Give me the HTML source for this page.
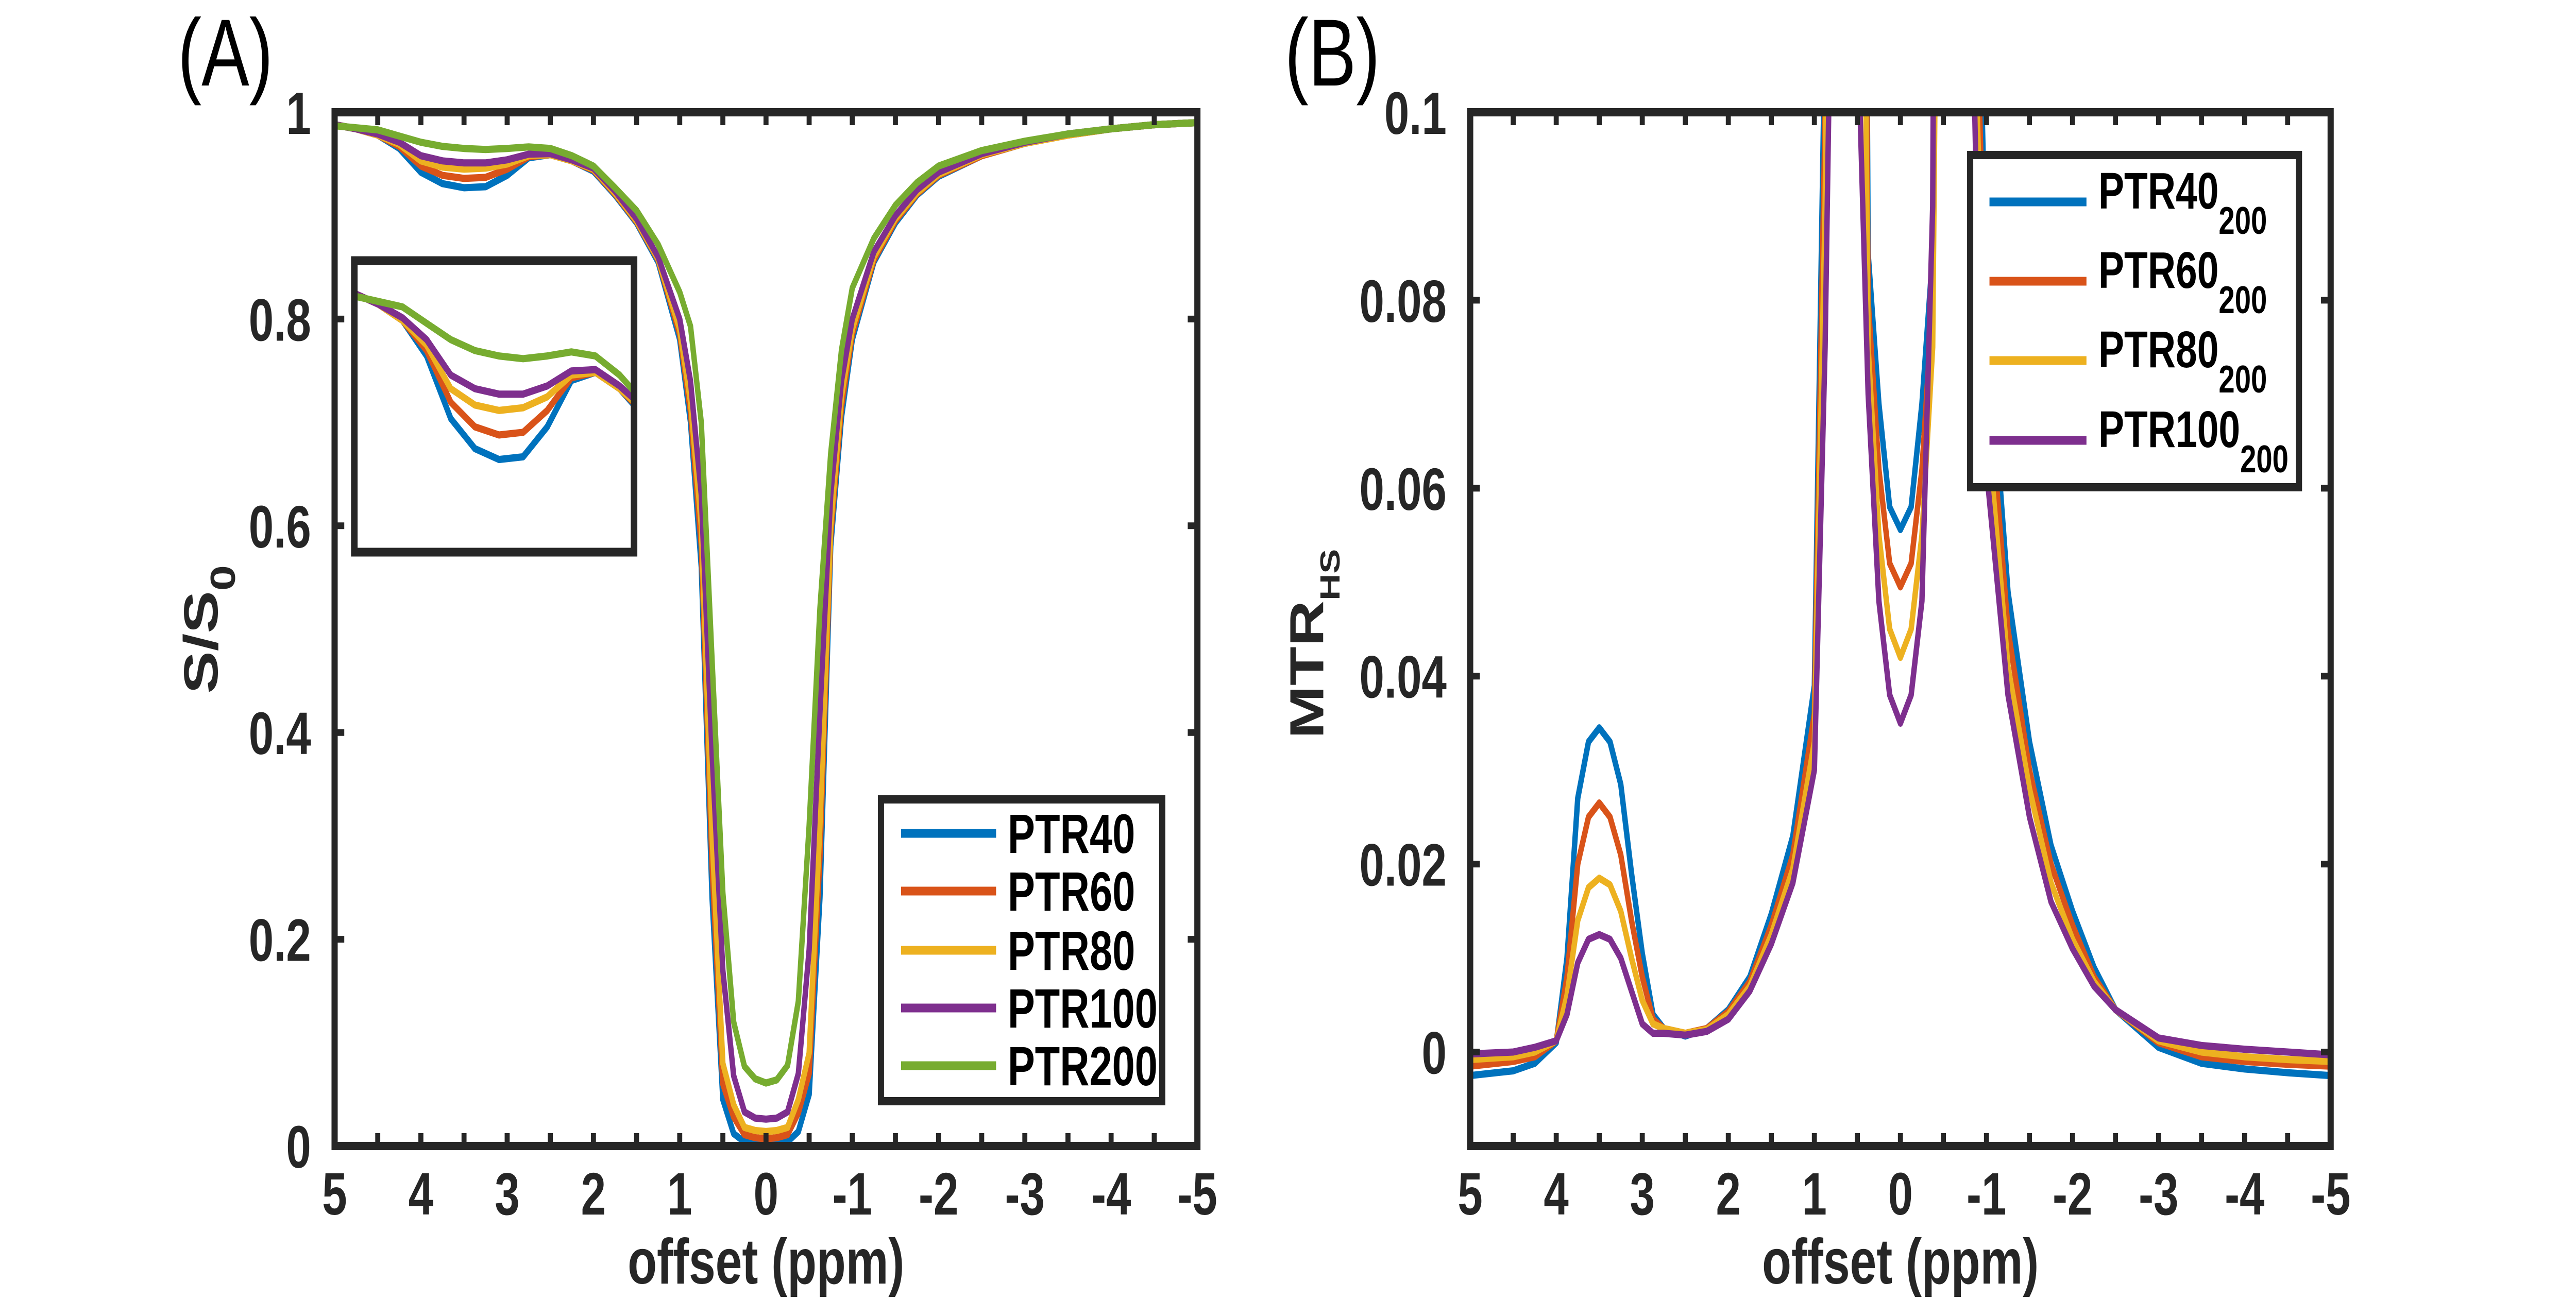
<!DOCTYPE html>
<html><head><meta charset="utf-8">
<style>
html,body{margin:0;padding:0;background:#fff;overflow:hidden;width:100%;height:100%;}
svg{display:block;width:100vw;height:100vh;}
text{font-family:"Liberation Sans",Arial,sans-serif;}
</style></head>
<body>
<svg id="fig" viewBox="0 0 6667 2555" preserveAspectRatio="none" xmlns="http://www.w3.org/2000/svg">
<rect x="0" y="0" width="6667" height="2555" fill="#fff"/>
<defs>
<clipPath id="clipA"><rect x="866" y="218" width="2233" height="2007"/></clipPath>
<clipPath id="clipB"><rect x="3805" y="218" width="2227" height="2007"/></clipPath>
<clipPath id="clipI"><rect x="917" y="506" width="724" height="566"/></clipPath>
</defs>
<g id="panelA"></g>
<g id="panelB"></g>
</svg>
<script>
// ---------- Panel A data ----------
const offsetsA = [5,4.75,4.5,4.25,4,3.75,3.5,3.25,3,2.75,2.5,2.25,2,1.75,1.5,1.25,1,0.875,0.75,0.625,0.5,0.375,0.25,0.125,0,-0.125,-0.25,-0.375,-0.5,-0.625,-0.75,-0.875,-1,-1.25,-1.5,-1.75,-2,-2.5,-3,-3.5,-4,-4.5,-5];
const ptr40 =  [0.988,0.984,0.978,0.965,0.942,0.931,0.927,0.928,0.939,0.956,0.959,0.953,0.943,0.920,0.893,0.855,0.780,0.700,0.560,0.240,0.045,0.012,0.004,0.002,0.0015,0.002,0.004,0.014,0.050,0.240,0.580,0.705,0.780,0.855,0.893,0.920,0.938,0.958,0.970,0.978,0.984,0.988,0.990];
const ptr60 =  [0.988,0.984,0.978,0.967,0.948,0.939,0.936,0.937,0.945,0.957,0.959,0.953,0.944,0.921,0.894,0.857,0.785,0.710,0.580,0.270,0.060,0.028,0.011,0.008,0.007,0.008,0.011,0.032,0.070,0.280,0.590,0.715,0.785,0.857,0.895,0.921,0.939,0.958,0.970,0.978,0.984,0.988,0.990];
const ptr80 =  [0.988,0.984,0.978,0.969,0.953,0.947,0.945,0.946,0.950,0.958,0.959,0.953,0.945,0.922,0.895,0.858,0.790,0.720,0.600,0.300,0.080,0.040,0.018,0.015,0.014,0.015,0.018,0.045,0.090,0.310,0.600,0.725,0.790,0.860,0.897,0.922,0.940,0.959,0.970,0.978,0.984,0.988,0.990];
const ptr100 = [0.988,0.984,0.979,0.971,0.958,0.953,0.951,0.951,0.954,0.9595,0.960,0.954,0.946,0.924,0.897,0.860,0.800,0.740,0.630,0.380,0.170,0.068,0.033,0.027,0.026,0.027,0.033,0.070,0.190,0.420,0.630,0.740,0.800,0.865,0.900,0.925,0.942,0.960,0.971,0.979,0.984,0.988,0.990];
const ptr200 = [0.987,0.985,0.983,0.977,0.971,0.967,0.965,0.964,0.965,0.9665,0.965,0.958,0.948,0.927,0.905,0.872,0.826,0.793,0.700,0.470,0.245,0.120,0.077,0.065,0.061,0.064,0.078,0.140,0.310,0.520,0.670,0.770,0.830,0.878,0.910,0.932,0.948,0.963,0.972,0.979,0.984,0.988,0.990];
const namesA = ["PTR40","PTR60","PTR80","PTR100","PTR200"];
const xTickLabels = ["5","4","3","2","1","0","-1","-2","-3","-4","-5"];
const yTicksA = [0,0.2,0.4,0.6,0.8,1];
const yTickLabelsA = ["0","0.2","0.4","0.6","0.8","1"];

// ---------- Panel B data ----------
const offsetsB = [5,4.5,4.25,4,3.875,3.75,3.625,3.5,3.375,3.25,3.125,3,2.875,2.75,2.5,2.25,2,1.75,1.5,1.25,1,0.875,0.75,0.5,0.375,0.25,0.125,0,-0.125,-0.25,-0.375,-0.5,-0.75,-0.875,-1,-1.25,-1.5,-1.75,-2,-2.25,-2.5,-3,-3.5,-4,-4.5,-5];
const mtr40 =  [-0.0025,-0.002,-0.0012,0.001,0.010,0.027,0.033,0.0345,0.033,0.0285,0.019,0.0105,0.004,0.0025,0.0017,0.0025,0.0045,0.008,0.0147,0.023,0.039,0.110,0.300,0.300,0.085,0.069,0.058,0.0556,0.058,0.069,0.085,0.300,0.300,0.130,0.080,0.049,0.033,0.022,0.015,0.009,0.0045,0.0005,-0.0012,-0.0018,-0.0022,-0.0025];
const mtr60 =  [-0.0015,-0.001,-0.0005,0.0012,0.008,0.020,0.025,0.0265,0.025,0.021,0.014,0.008,0.0035,0.0025,0.002,0.0025,0.0043,0.0075,0.0135,0.021,0.036,0.100,0.250,0.250,0.080,0.062,0.052,0.0495,0.052,0.062,0.080,0.250,0.250,0.115,0.074,0.045,0.030,0.020,0.0135,0.008,0.0045,0.001,-0.0005,-0.001,-0.0013,-0.0015];
const mtr80 =  [-0.0008,-0.0005,0,0.0012,0.006,0.014,0.0175,0.0185,0.0178,0.015,0.010,0.0055,0.003,0.0025,0.002,0.0024,0.004,0.007,0.0125,0.0195,0.033,0.090,0.200,0.200,0.075,0.055,0.045,0.042,0.045,0.055,0.075,0.200,0.200,0.105,0.068,0.041,0.028,0.018,0.012,0.0075,0.0045,0.0012,0,-0.0005,-0.0008,-0.001];
const mtr100 = [-0.0002,0,0.0005,0.0012,0.004,0.0095,0.012,0.0125,0.012,0.010,0.0065,0.003,0.002,0.002,0.0018,0.0022,0.0035,0.0065,0.0115,0.018,0.030,0.075,0.150,0.110,0.070,0.048,0.038,0.035,0.038,0.048,0.090,0.300,0.150,0.095,0.062,0.038,0.025,0.016,0.011,0.007,0.0045,0.0015,0.0007,0.0003,0,-0.0003];
const namesB = ["PTR40","PTR60","PTR80","PTR100"];
const yTicksB = [0,0.02,0.04,0.06,0.08,0.1];
const yTickLabelsB = ["0","0.02","0.04","0.06","0.08","0.1"];

const colors = ["#0072BD","#D95319","#EDB120","#7E2F8E","#77AC30"];
const AX = "#262626";
const NS = "http://www.w3.org/2000/svg";

function mk(tag, attrs, parent){
  const e = document.createElementNS(NS, tag);
  for (const k in attrs) e.setAttribute(k, attrs[k]);
  parent.appendChild(e);
  return e;
}
function linScale(d0,d1,r0,r1){ return v => r0 + (v-d0)/(d1-d0)*(r1-r0); }

function pathFor(xs, ys, sx, sy){
  let d = "";
  for (let i=0;i<xs.length;i++){ d += (i?"L":"M") + sx(xs[i]).toFixed(1) + "," + sy(ys[i]).toFixed(1); }
  return d;
}

function drawAxes(g, L, R, T, B, sx, sy, yTicks, yLabels, labelRight){
  for (let v=5; v>=-5-1e-9; v-=0.5){
    const x = sx(v);
    const t1 = mk("line",{x1:x,y1:B,x2:x,y2:B-25,stroke:AX,"stroke-width":13},g);
    
    
    const t2 = mk("line",{x1:x,y1:T,x2:x,y2:T+25,stroke:AX,"stroke-width":13},g);
    
    
  }
  for (let i=0;i<xTickLabels.length;i++){
    const v = 5 - i;
    const t = mk("text",{x:sx(v),y:B+133,"font-size":116,"font-weight":"bold",fill:AX,"text-anchor":"middle"},g);
    t.textContent = xTickLabels[i];
    
    
  }
  for (let i=0;i<yTicks.length;i++){
    const y = sy(yTicks[i]);
    const a = mk("line",{x1:L,y1:y,x2:L+25,y2:y,stroke:AX,"stroke-width":13},g);
    
    
    const b = mk("line",{x1:R,y1:y,x2:R-25,y2:y,stroke:AX,"stroke-width":13},g);
    
    
    const t = mk("text",{x:labelRight,y:y+42,"font-size":116,"font-weight":"bold",fill:AX,"text-anchor":"end"},g);
    t.textContent = yLabels[i];
    
    
  }
  const box = mk("rect",{x:L,y:T,width:R-L,height:B-T,fill:"none",stroke:AX,"stroke-width":16},g);
  
  
  const xl = mk("text",{x:(L+R)/2,y:2492,"font-size":124,"font-weight":"bold",fill:AX,"text-anchor":"middle"},g);
  xl.textContent = "offset (ppm)";
  
  
}

// ---------- Panel A ----------
(function(){
  const g = document.getElementById("panelA");
  const L=866,R=3099,T=218,B=2225;
  const sx = linScale(5,-5,L,R), sy = linScale(0,1,B,T);
  const seriesA = [ptr40,ptr60,ptr80,ptr100,ptr200];
  const lines = mk("g",{"clip-path":"url(#clipA)"},g);
  
  
  seriesA.forEach((s,i)=>{
    const p = mk("path",{d:pathFor(offsetsA,s,sx,sy),fill:"none",stroke:colors[i],"stroke-width":14,"stroke-linejoin":"round"},lines);
    
    
  });
  drawAxes(g,L,R,T,B,sx,sy,yTicksA,yTickLabelsA,805);

  const ig = mk("g",{},g);
  
  
  const isx = linScale(5,2.1,917,1641), isy = linScale(0.893,1.0,1072,506);
  mk("rect",{x:917,y:506,width:724,height:566,fill:"#fff"},ig);
  const il = mk("g",{"clip-path":"url(#clipI)"},ig);
  seriesA.forEach((s,i)=>{
    const p = mk("path",{d:pathFor(offsetsA,s,isx,isy),fill:"none",stroke:colors[i],"stroke-width":14,"stroke-linejoin":"round"},il);
    
    
  });
  const ib = mk("rect",{x:917,y:506,width:724,height:566,fill:"none",stroke:AX,"stroke-width":17},ig);
  
  

  const lg = mk("g",{},g);
  
  
  mk("rect",{x:2280,y:1552,width:728,height:586,fill:"#fff",stroke:AX,"stroke-width":16},lg);
  const ys=[1618,1730,1845,1957,2069];
  namesA.forEach((n,i)=>{
    const e = mk("g",{},lg);
    
    
    mk("line",{x1:2332,y1:ys[i],x2:2578,y2:ys[i],stroke:colors[i],"stroke-width":17},e);
    const t = mk("text",{x:2608,y:ys[i]+38,"font-size":108,"font-weight":"bold",fill:"#000",textLength:(n.length===5?330:388),lengthAdjust:"spacingAndGlyphs"},e);
    t.textContent = n;
  });

  const yl = mk("text",{transform:"translate(563,1222) rotate(-90)","font-size":124,"font-weight":"bold",fill:AX,"text-anchor":"middle"},g);
  
  
  yl.innerHTML = 'S/S<tspan dy="45" font-size="90">0</tspan>';

  const pl = mk("text",{x:460,y:166,"font-size":185,fill:"#000"},g);
  pl.textContent = "(A)";
  
  
})();

// ---------- Panel B ----------
(function(){
  const g = document.getElementById("panelB");
  const L=3805,R=6032,T=218,B=2225;
  const sx = linScale(5,-5,L,R), sy = linScale(-0.01,0.1,B,T);
  const seriesB = [mtr40,mtr60,mtr80,mtr100];
  const lines = mk("g",{"clip-path":"url(#clipB)"},g);
  
  
  seriesB.forEach((s,i)=>{
    const p = mk("path",{d:pathFor(offsetsB,s,sx,sy),fill:"none",stroke:colors[i],"stroke-width":14,"stroke-linejoin":"round"},lines);
    
    
  });
  drawAxes(g,L,R,T,B,sx,sy,yTicksB,yTickLabelsB,3744);

  const lg = mk("g",{},g);
  
  
  mk("rect",{x:5099,y:301,width:851,height:645,fill:"#fff",stroke:AX,"stroke-width":16},lg);
  const ys=[392,546,700,855];
  namesB.forEach((n,i)=>{
    const e = mk("g",{},lg);
    
    
    mk("line",{x1:5149,y1:ys[i],x2:5400,y2:ys[i],stroke:colors[i],"stroke-width":17},e);
    const t = mk("text",{x:5431,y:ys[i]+13,"font-size":100,"font-weight":"bold",fill:"#000"},e);
    t.innerHTML = n + '<tspan dy="49" font-size="75">200</tspan>';
  });

  const yl = mk("text",{transform:"translate(3425,1250) rotate(-90)","font-size":124,"font-weight":"bold",fill:AX,"text-anchor":"middle"},g);
  
  
  yl.innerHTML = 'MTR<tspan dy="42" font-size="72">HS</tspan>';

  const pl = mk("text",{x:3325,y:166,"font-size":185,fill:"#000"},g);
  pl.textContent = "(B)";
  
  
})();
</script>
</body></html>
